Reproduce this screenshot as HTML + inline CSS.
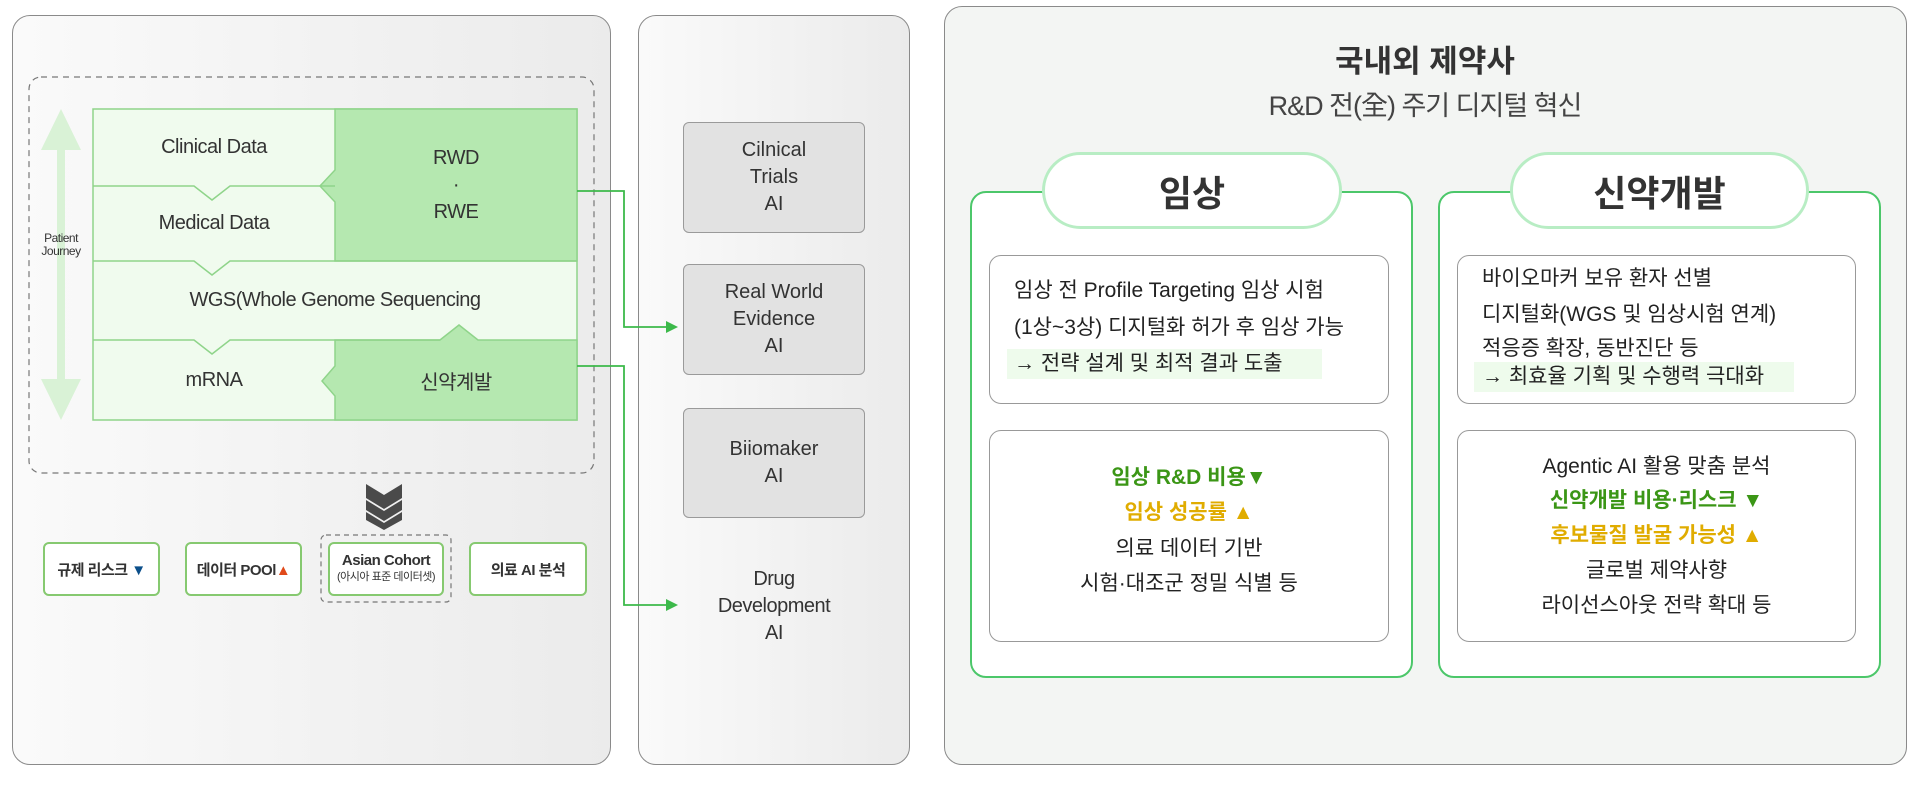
<!DOCTYPE html>
<html><head><meta charset="utf-8"><style>
*{margin:0;padding:0;box-sizing:border-box}
body{width:1920px;height:785px;background:#fff;position:relative;overflow:hidden;font-family:"Liberation Sans","Noto Sans CJK KR",sans-serif;color:#333}
.a{position:absolute}
.panel{position:absolute;border:1.5px solid #8a8a8a;border-radius:18px;background:linear-gradient(90deg,#fafafa,#ebebeb)}
.c{text-align:center}
.lab{position:absolute;display:flex;align-items:center;justify-content:center;text-align:center;font-size:20px;color:#333;letter-spacing:-0.5px}
.mid{position:absolute;left:683px;width:182px;background:#e2e2e2;border:1.5px solid #9a9a9a;border-radius:6px;display:flex;align-items:center;justify-content:center;text-align:center;font-size:20px;line-height:27px;color:#333}
.bb{position:absolute;top:542px;height:54px;background:#fff;border:2.5px solid #86c970;border-radius:6px;display:flex;flex-direction:column;align-items:center;justify-content:center;font-size:15px;font-weight:bold;color:#333;text-align:center;letter-spacing:-0.5px;white-space:nowrap}
.card{position:absolute;border:2.5px solid #4cc76a;border-radius:16px;background:#fff}
.pill{position:absolute;height:77px;border:3px solid #b8edc4;border-radius:40px;background:#fff;display:flex;align-items:center;justify-content:center;font-size:36px;font-weight:bold;color:#333}
.inner{position:absolute;border:1.5px solid #999;border-radius:12px;background:#fff}
.t{position:absolute;font-size:21px;color:#222;white-space:nowrap;line-height:26px}
.g{color:#3b9616;font-weight:bold}.y{color:#e0ac00;font-weight:bold}
</style></head><body>
<div class="panel" style="left:12px;top:15px;width:599px;height:750px"></div>
<div class="panel" style="left:638px;top:15px;width:272px;height:750px"></div>
<div class="panel" style="left:944px;top:6px;width:963px;height:759px;background:#f3f5f3"></div>

<svg class="a" style="left:0;top:0" width="1920" height="785">
<rect x="29" y="77" width="565" height="396" rx="12" fill="none" stroke="#777" stroke-width="1.2" stroke-dasharray="6,5"/>
<rect x="93" y="109" width="484" height="311" fill="#f0fbee" stroke="#8fd48a" stroke-width="1.5"/>
<polygon points="335,109 577,109 577,261 335,261 335,202 320,186 335,170" fill="#b5e8b0" stroke="#8fd48a" stroke-width="1.5"/>
<polygon points="335,340 440,340 459,325 478,340 577,340 577,420 335,420 335,396 322,381 335,366" fill="#b5e8b0" stroke="#8fd48a" stroke-width="1.5"/>
<polyline points="93,186 194,186 212,200 230,186 335,186" fill="none" stroke="#8fd48a" stroke-width="1.5"/>
<polyline points="93,261 194,261 212,275 230,261 335,261" fill="none" stroke="#8fd48a" stroke-width="1.5"/>
<polyline points="93,340 194,340 212,354 230,340 440,340" fill="none" stroke="#8fd48a" stroke-width="1.5"/>
<line x1="335" y1="261" x2="577" y2="261" stroke="#8fd48a" stroke-width="1.5"/>
<polygon points="61,109 81,150 65,150 65,379 81,379 61,420 41,379 57,379 57,150 41,150" fill="#d9f2d6"/>
<g fill="#4a4a4a"><polygon points="366,484 384,495 402,484 402,498 384,509 366,498"/><polygon points="366,500 384,511 402,500 402,510 384,521 366,510"/><polygon points="366,512 384,523 402,512 402,520 384,530 366,520"/></g>
<rect x="321" y="535" width="130" height="67" rx="5" fill="none" stroke="#777" stroke-width="1.2" stroke-dasharray="5,4"/>
<polyline points="577,191 624,191 624,327 668,327" fill="none" stroke="#3cb94a" stroke-width="1.8"/>
<polygon points="678,327 666,321 666,333" fill="#3cb94a"/>
<polyline points="577,366 624,366 624,605 668,605" fill="none" stroke="#3cb94a" stroke-width="1.8"/>
<polygon points="678,605 666,599 666,611" fill="#3cb94a"/>
</svg>

<div class="lab" style="left:93px;top:109px;width:242px;height:77px">Clinical Data</div>
<div class="lab" style="left:93px;top:186px;width:242px;height:75px">Medical Data</div>
<div class="lab" style="left:335px;top:109px;width:242px;height:152px;line-height:27px">RWD<br>·<br>RWE</div>
<div class="lab" style="left:93px;top:261px;width:484px;height:79px">WGS(Whole Genome Sequencing</div>
<div class="lab" style="left:93px;top:340px;width:242px;height:80px">mRNA</div>
<div class="lab" style="left:335px;top:340px;width:242px;height:80px">신약계발</div>
<div class="lab" style="left:26px;top:228px;width:70px;height:34px;font-size:12px;line-height:13px">Patient<br>Journey</div>

<div class="bb" style="left:43px;width:117px"><span>규제 리스크 <span style="color:#0b4f8a">▼</span></span></div>
<div class="bb" style="left:185px;width:117px"><span>데이터 POOl<span style="color:#e0491a">▲</span></span></div>
<div class="bb" style="left:328px;width:116px;line-height:17px"><span>Asian Cohort</span><span style="font-size:11px;font-weight:normal">(아시아 표준 데이터셋)</span></div>
<div class="bb" style="left:469px;width:118px">의료 AI 분석</div>

<div class="mid" style="top:122px;height:111px">Cilnical<br>Trials<br>AI</div>
<div class="mid" style="top:264px;height:111px">Real World<br>Evidence<br>AI</div>
<div class="mid" style="top:408px;height:110px">Biiomaker<br>AI</div>
<div class="lab" style="left:683px;top:565px;width:182px;height:82px;line-height:27px">Drug<br>Development<br>AI</div>

<div class="a c" style="left:1125px;top:36px;width:600px;font-size:31px;font-weight:bold;color:#333">국내외 제약사</div>
<div class="a c" style="left:1125px;top:84px;width:600px;font-size:27px;color:#444;letter-spacing:-1px">R&amp;D 전(全) 주기 디지털 혁신</div>

<div class="card" style="left:970px;top:191px;width:443px;height:487px"></div>
<div class="pill" style="left:1042px;top:152px;width:300px">임상</div>
<div class="inner" style="left:989px;top:255px;width:400px;height:149px"></div>
<div class="t" style="left:1014px;top:278px">임상 전 Profile Targeting 임상 시험</div>
<div class="t" style="left:1014px;top:315px">(1상~3상) 디지털화 허가 후 임상 가능</div>
<div class="a" style="left:1007px;top:349px;width:315px;height:30px;background:#eefbec"></div>
<div class="t" style="left:1014px;top:351px">→ 전략 설계 및 최적 결과 도출</div>
<div class="inner" style="left:989px;top:430px;width:400px;height:212px"></div>
<div class="t c" style="left:989px;top:465px;width:400px"><span class="g">임상 R&amp;D 비용▼</span></div>
<div class="t c" style="left:989px;top:500px;width:400px"><span class="y">임상 성공률 ▲</span></div>
<div class="t c" style="left:989px;top:536px;width:400px">의료 데이터 기반</div>
<div class="t c" style="left:989px;top:571px;width:400px">시험·대조군 정밀 식별 등</div>

<div class="card" style="left:1438px;top:191px;width:443px;height:487px"></div>
<div class="pill" style="left:1510px;top:152px;width:299px">신약개발</div>
<div class="inner" style="left:1457px;top:255px;width:399px;height:149px"></div>
<div class="t" style="left:1482px;top:266px">바이오마커 보유 환자 선별</div>
<div class="t" style="left:1482px;top:302px">디지털화(WGS 및 임상시험 연계)</div>
<div class="t" style="left:1482px;top:336px">적응증 확장, 동반진단 등</div>
<div class="a" style="left:1474px;top:362px;width:320px;height:30px;background:#eefbec"></div>
<div class="t" style="left:1482px;top:364px">→ 최효율 기획 및 수행력 극대화</div>
<div class="inner" style="left:1457px;top:430px;width:399px;height:212px"></div>
<div class="t c" style="left:1457px;top:454px;width:399px">Agentic AI 활용 맞춤 분석</div>
<div class="t c" style="left:1457px;top:488px;width:399px"><span class="g">신약개발 비용·리스크 ▼</span></div>
<div class="t c" style="left:1457px;top:523px;width:399px"><span class="y">후보물질 발굴 가능성 ▲</span></div>
<div class="t c" style="left:1457px;top:558px;width:399px">글로벌 제약사향</div>
<div class="t c" style="left:1457px;top:593px;width:399px">라이선스아웃 전략 확대 등</div>
</body></html>
